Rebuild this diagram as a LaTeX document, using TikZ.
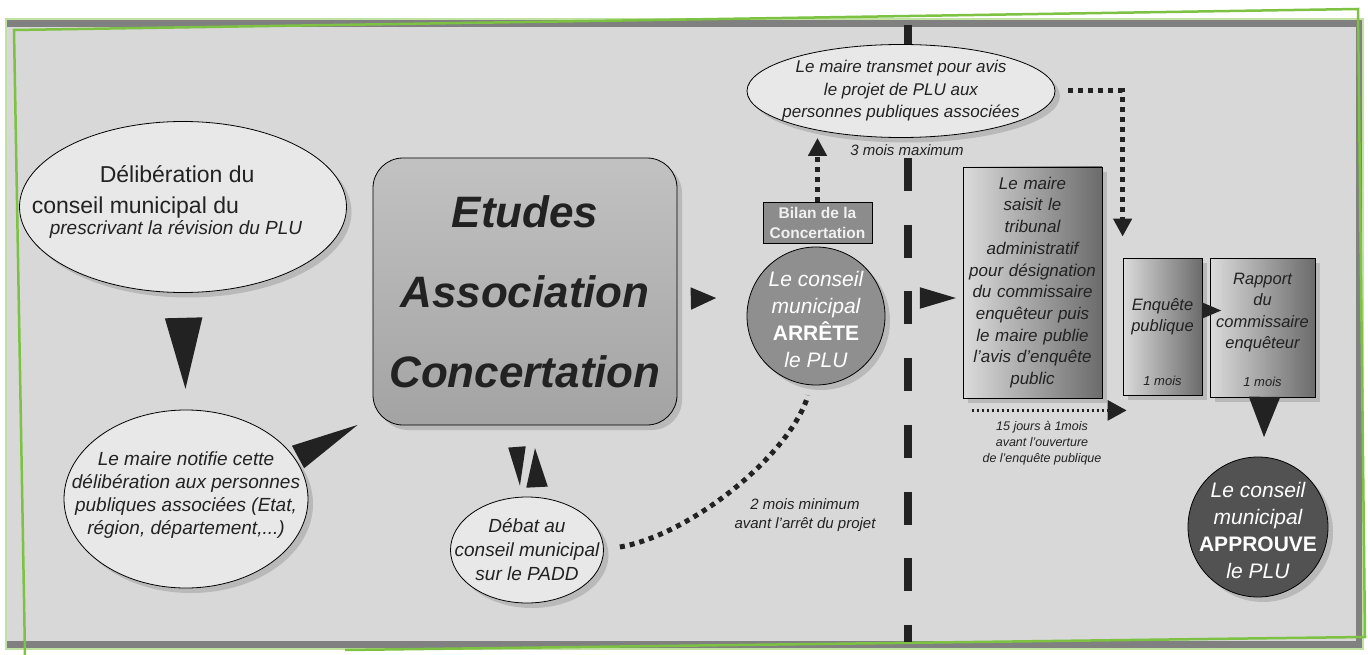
\documentclass[tikz,border=0pt]{standalone}
\usepackage{fontspec}
\setmainfont{Liberation Sans}
\usetikzlibrary{shapes.geometric,arrows.meta,shadows}
\definecolor{panel}{HTML}{D8D8D8}
\definecolor{band}{HTML}{808080}
\definecolor{frame}{HTML}{7DC242}
\definecolor{paleframe}{HTML}{C2E2A3}
\definecolor{ink}{HTML}{222222}
\newcommand{\fsz}[2]{\fontsize{#1}{#2}\selectfont}
\begin{document}
\begin{tikzpicture}[x=1pt,y=-1pt,text=ink,font=\fsz{19}{23}\itshape]
  \tikzstyle{dropsh}=[drop shadow={opacity=0.35,shadow xshift=5pt,shadow yshift=-5pt}]
  \tikzstyle{bubble}=[ellipse,draw,thick,fill=black!9,dropsh]
  \tikzstyle{grbox}=[rectangle,draw,thick,left color=black!14,right color=black!58,dropsh]
  \tikzstyle{dotline}=[ink,line width=5pt,dash pattern=on 5pt off 5pt]
  \tikzstyle{dotarrow}=[dotline,-{Triangle[length=18pt,width=18pt]}]
  \tikzstyle{smalldots}=[ink,line width=3pt,dash pattern=on 2.5pt off 2.5pt,-{Triangle[length=19pt,width=20pt]}]
  \tikzset{bigtri/.style 2 args={ink,draw opacity=0,-{Triangle[length=#1pt,width=#2pt]}}}

  \useasboundingbox (0,0) rectangle (1368,655);
  \fill[panel] (7,20) rectangle (1362,648);
  \fill[band] (7,20) rectangle (1362,27);
  \fill[band] (7,641) rectangle (1362,648);
  \fill[band] (1356,20) rectangle (1362,648);
  \draw[paleframe,line width=2.5pt] (6,19) rectangle (1363,649);
  \draw[frame,line width=2.5pt] (25,655) -- (14,30) -- (1358,9) -- (1365,637) -- (345,650);
  \draw[ink,line width=8pt,dash pattern=on 33pt off 33.7pt] (908,24.6) -- (908,642);

  \node[bubble,minimum width=327pt,minimum height=171pt,label={[font=\fsz{23}{31}\upshape,align=left,shift={(-16,-5)}]center:{\hspace*{68pt}Délibération du\\conseil municipal du\\[-10pt]\hspace*{18pt}{\fsz{19}{21}\itshape prescrivant la révision du PLU}}}] (delib) at (183,207) {};
  \node[bubble,minimum width=244pt,minimum height=178pt,label={[align=center,shift={(0,-4)}]center:{Le maire notifie cette\\délibération aux personnes\\publiques associées (Etat,\\région, département,...)}}] (notif) at (186,499) {};
  \node[rectangle,rounded corners=30pt,draw,thick,top color=black!24,bottom color=black!36,dropsh,minimum width=304pt,minimum height=267pt,align=center,font=\fsz{44}{80}\bfseries\itshape] (etudes) at (525,291.5) {Etudes\\Association\\Concertation};
  \node[bubble,minimum width=153pt,minimum height=106pt,label={[align=center,font=\fsz{19}{24}\itshape]center:{Débat au\\conseil municipal\\sur le PADD}}] (debat) at (527,550) {};
  \node[circle,draw,thick,fill=black!44,dropsh,minimum size=138pt,inner sep=0pt,label={[text=white,align=center,font=\fsz{21}{27}\itshape,shift={(0,3)}]center:{Le conseil\\municipal\\{\upshape\bfseries ARRÊTE}\\le PLU}}] (arrete) at (816,316) {};
  \node[rectangle,draw,thick,fill=black!45,text=black!6,minimum width=109pt,minimum height=41pt,inner sep=0pt,align=center,font=\fsz{15.5}{20}\bfseries\upshape] (bilan) at (817.5,222.5) {Bilan de la\\Concertation};
  \node[bubble,minimum width=308pt,minimum height=93pt,label={[align=center,font=\fsz{17}{22.5}\itshape]center:{Le maire transmet pour avis\\le projet de PLU aux\\personnes publiques associées}}] (transmet) at (901,91) {};
  \node[font=\fsz{15}{18}\itshape] (delai3) at (907,150) {3 mois maximum};
  \node[grbox,minimum width=139pt,minimum height=231pt,inner sep=0pt,text width=139pt,align=center,font=\fsz{17}{21.7}\itshape] (saisit) at (1032.5,282.5) {Le maire\\saisit le\\tribunal\\administratif\\pour désignation\\du commissaire\\enquêteur puis\\le maire publie\\l'avis d'enquête\\public};
  \node[grbox,minimum width=79pt,minimum height=137pt,inner sep=0pt,label={[align=center,font=\fsz{16.5}{21}\itshape,shift={(0,-10)}]center:{Enquête\\publique}},label={[font=\fsz{13}{15}\itshape,shift={(0,54.5)}]center:1 mois}] (enquete) at (1162.5,326.5) {};
  \node[grbox,minimum width=105pt,minimum height=139pt,inner sep=0pt,label={[align=center,font=\fsz{16.5}{21.5}\itshape,shift={(0,-15)}]center:{Rapport\\du\\commissaire\\enquêteur}},label={[font=\fsz{13}{15}\itshape,shift={(0,54.5)}]center:1 mois}] (rapport) at (1262.5,327.5) {};
  \node[circle,draw,thick,fill=black!68,dropsh,minimum size=140pt,inner sep=0pt,label={[text=white,align=center,font=\fsz{21}{27}\itshape,shift={(0,3)}]center:{Le conseil\\municipal\\{\upshape\bfseries APPROUVE}\\le PLU}}] (approuve) at (1258,527) {};
  \node[align=center,font=\fsz{15}{19}\itshape] (delai2) at (805,515) {2 mois minimum\\avant l'arrêt du projet};
  \node[align=center,font=\fsz{12.5}{16}\itshape] (delai15) at (1042,443) {15 jours à 1mois\\avant l'ouverture\\de l'enquête publique};

  \draw[bigtri={72}{38},shorten >=20pt] (delib.south) -- (notif.north);
  \draw[bigtri={69}{26}] ([shift={(112,-42)}]notif.center) -- ([shift={(-14,-1)}]etudes.south west);
  \draw[bigtri={26}{23}] ([shift={(15,7)}]etudes.east) -- ([shift={(-30,-18)}]arrete.west);
  \draw[bigtri={40}{18}] ([shift={(-8,22)}]etudes.south) -- ([shift={(-7,-10)}]debat.north);
  \draw[bigtri={40}{22}] ([shift={(10,-10)}]debat.north) -- ([shift={(10,22)}]etudes.south);
  \draw[bigtri={37}{22}] ([shift={(35,-18)}]arrete.east) -- ([shift={(-6,15.5)}]saisit.west);
  \draw[bigtri={20}{17}] ([shift={(0,-16)}]enquete.east) -- ([shift={(12,-17)}]rapport.west);
  \draw[bigtri={41}{32}] ([shift={(2,0)}]rapport.south) -- ([shift={(6,-19)}]approuve.north);
  \draw[dotarrow] (bilan.north) -- (bilan.north |- transmet.south);
  \draw[dotarrow,shorten <=13pt,shorten >=21pt] (transmet.east) -| (enquete.north west);
  \draw[smalldots] ([shift={(9,12)}]saisit.south west) -- ([shift={(4,15)}]enquete.south west);
  \draw[dotline] ([shift={(16,-3)}]debat.east) .. controls +(70,-12) and +(-18,60) .. ([shift={(-8,10)}]arrete.south);
\end{tikzpicture}
\end{document}
